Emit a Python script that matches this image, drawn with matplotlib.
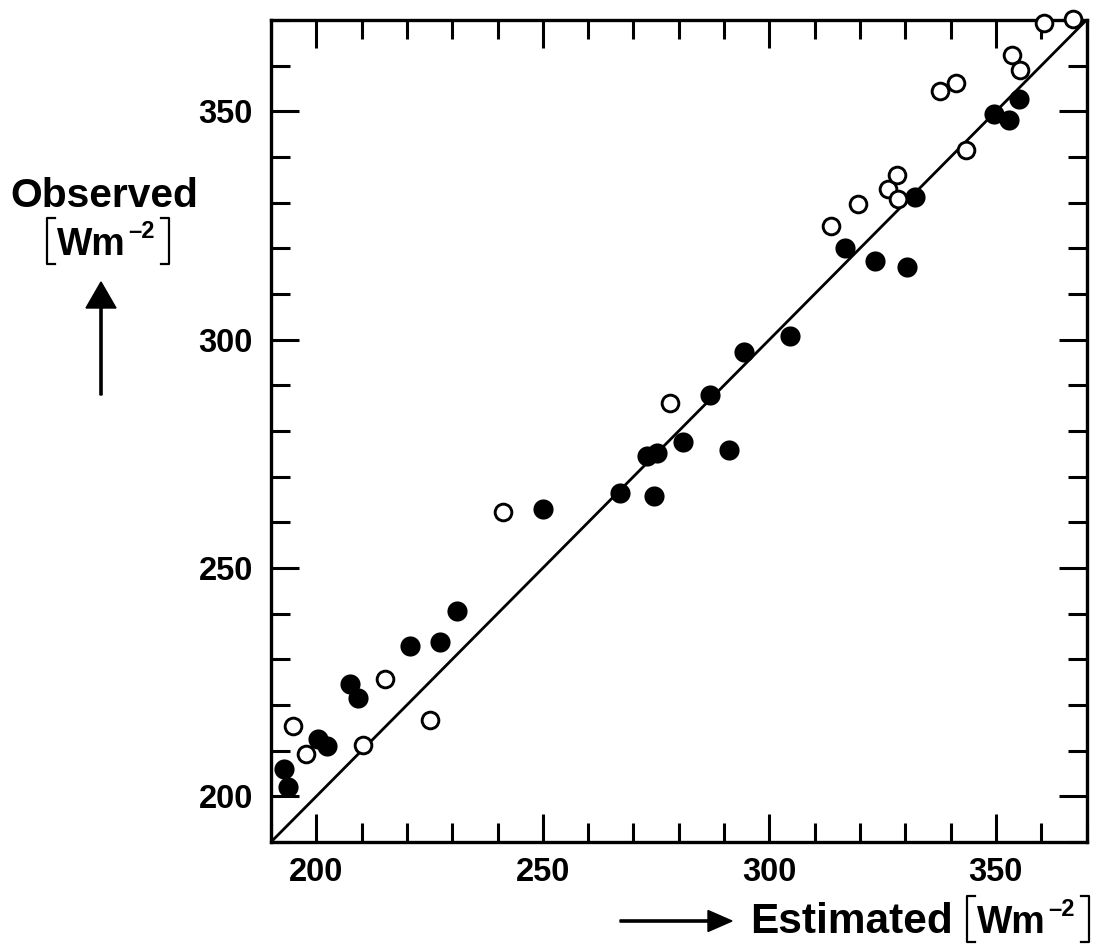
import matplotlib
matplotlib.use("Agg")
import matplotlib.pyplot as plt
from matplotlib.lines import Line2D
from matplotlib.patches import FancyArrow
from matplotlib.ticker import MultipleLocator
import matplotlib.transforms as mtransforms

plt.rcParams['font.family'] = ['Liberation Sans', 'DejaVu Sans']

# filled symbols
est_filled = [192.9, 193.7, 200.3, 202.4, 207.4, 209.2, 220.6, 227.4, 231.1, 250.0,
              267.0, 273.0, 275.1, 274.6, 280.9, 286.8, 291.2, 294.5, 304.6, 316.8,
              323.4, 330.4, 332.2, 349.5, 352.8, 355.0]
obs_filled = [205.9, 202.1, 212.5, 211.0, 224.7, 221.6, 232.9, 233.7, 240.5, 263.0,
              266.5, 274.6, 275.2, 265.8, 277.7, 287.9, 275.9, 297.4, 300.8, 320.0,
              317.2, 316.0, 331.3, 349.5, 348.2, 352.8]

# open symbols
est_open = [194.8, 197.7, 210.4, 215.2, 225.0, 241.1, 278.0, 313.5, 319.5, 326.1,
            328.2, 328.3, 337.7, 341.1, 343.5, 353.6, 355.4, 360.6, 367.0]
obs_open = [215.4, 209.3, 211.2, 225.8, 216.8, 262.3, 286.1, 324.9, 329.8, 332.9,
            336.0, 330.7, 354.5, 356.2, 341.5, 362.3, 359.1, 369.3, 370.3]

lims = [190, 370]
tick_labels = [200, 250, 300, 350]

W, H = 1093, 947
fig = plt.figure(figsize=(W / 100, H / 100), dpi=100)
ax = fig.add_axes([271 / W, (H - 842) / H, 815.5 / W, 822 / H])

# 1:1 line
ax.plot(lims, lims, color='black', lw=2.0, zorder=2)
ax.plot(est_filled, obs_filled, 'o', ms=14.5, mfc='black', mec='black',
        mew=0, zorder=3, clip_on=False)
ax.plot(est_open, obs_open, 'o', ms=12, mfc='white', mec='black',
        mew=2.1, zorder=4, clip_on=False)

ax.set_xlim(lims)
ax.set_ylim(lims)
for a in (ax.xaxis, ax.yaxis):
    a.set_major_locator(MultipleLocator(50))
    a.set_minor_locator(MultipleLocator(10))
ax.set_xticks(tick_labels)
ax.set_yticks(tick_labels)
ax.tick_params(which='both', direction='in', top=True, right=True, width=2.2)
ax.tick_params(which='major', length=20)
ax.tick_params(which='minor', length=13.5)
ax.tick_params(axis='x', pad=11, labelsize=23.5)
ax.tick_params(axis='y', pad=13, labelsize=23.5)
for lab in ax.get_xticklabels() + ax.get_yticklabels():
    lab.set_fontweight('bold')
for s in ax.spines.values():
    s.set_linewidth(2.4)

px = mtransforms.IdentityTransform()


def txt(x, y, s, **kw):
    fig.text(x, H - y, s, transform=px, fontweight='bold', color='black', **kw)


def bracket(x, y0, y1, side):
    d = 8 if side == 'left' else -8
    xs = [x + d, x, x, x + d]
    ys = [H - y0, H - y0, H - y1, H - y1]
    fig.add_artist(Line2D(xs, ys, transform=px, color='black', lw=1.6))


def unit(x0, base):
    # [Wm^-2] built from pieces
    bracket(x0, base - 37, base + 9, 'left')
    txt(x0 + 10, base, 'Wm', fontsize=27, va='baseline')
    txt(x0 + 81, base - 17, '\u20132', fontsize=17, va='baseline')
    bracket(x0 + 122, base - 37, base + 9, 'right')


# y-axis title
txt(104, 207, 'Observed', fontsize=29.3, ha='center', va='baseline')
unit(47, 255)
fig.add_artist(FancyArrow(101, H - 395, 0, 87, width=2.2, head_width=30,
                          head_length=26, length_includes_head=False,
                          transform=px, color='black'))

# x-axis title
fig.add_artist(FancyArrow(620, H - 921, 88, 0, width=2.2, head_width=21,
                          head_length=24, length_includes_head=False,
                          transform=px, color='black'))
txt(750, 933, 'Estimated', fontsize=30.5, ha='left', va='baseline')
unit(967, 933)

fig.savefig('out.png', dpi=100)
